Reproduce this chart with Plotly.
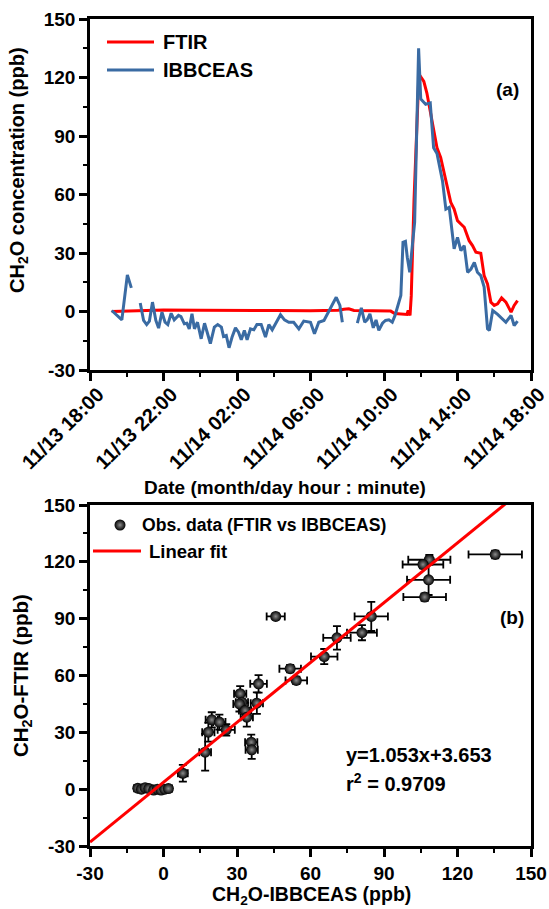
import plotly.graph_objects as go
import pandas as pd

W, H = 549, 909

# ---------------- Panel (a) data ----------------
ibb_time = [
    "11-13 19:11", "11-13 19:44", "11-13 20:02", "11-13 20:15", "11-13 20:30",
    "11-13 20:44", "11-13 20:55", "11-13 21:05", "11-13 21:14", "11-13 21:24", "11-13 21:35",
    "11-13 21:44", "11-13 21:55", "11-13 22:05", "11-13 22:14", "11-13 22:25", "11-13 22:35",
    "11-13 22:49", "11-13 22:57", "11-13 23:08", "11-13 23:16", "11-13 23:24", "11-13 23:33",
    "11-13 23:41", "11-13 23:51", "11-14 00:03", "11-14 00:14", "11-14 00:24", "11-14 00:33",
    "11-14 00:46", "11-14 00:57", "11-14 01:09", "11-14 01:16", "11-14 01:25", "11-14 01:34",
    "11-14 01:44", "11-14 01:55", "11-14 02:05", "11-14 02:14", "11-14 02:24", "11-14 02:33",
    "11-14 02:44", "11-14 02:55", "11-14 03:05", "11-14 03:19", "11-14 03:33", "11-14 03:44",
    "11-14 03:55", "11-14 04:05", "11-14 04:22", "11-14 04:35", "11-14 04:49", "11-14 05:05",
    "11-14 05:22", "11-14 05:38", "11-14 06:00", "11-14 06:13", "11-14 06:27", "11-14 06:44",
    "11-14 06:57", "11-14 07:08", "11-14 07:24", "11-14 07:36", "11-14 07:44", "11-14 08:10",
    "11-14 08:33", "11-14 08:46", "11-14 08:57", "11-14 09:05", "11-14 09:14", "11-14 09:25",
    "11-14 09:34", "11-14 09:43", "11-14 09:55", "11-14 10:05", "11-14 10:16", "11-14 10:27",
    "11-14 10:36", "11-14 10:46", "11-14 10:55", "11-14 11:02", "11-14 11:10", "11-14 11:16",
    "11-14 11:24", "11-14 11:32", "11-14 11:40", "11-14 11:53", "11-14 12:00", "11-14 12:16",
    "11-14 12:31", "11-14 12:42", "11-14 12:53", "11-14 13:11", "11-14 13:22", "11-14 13:33",
    "11-14 13:38", "11-14 13:49", "11-14 14:00", "11-14 14:11", "11-14 14:22", "11-14 14:33",
    "11-14 14:44", "11-14 14:55", "11-14 15:05", "11-14 15:16", "11-14 15:27", "11-14 15:38",
    "11-14 15:44", "11-14 15:55", "11-14 16:11", "11-14 16:24", "11-14 16:38", "11-14 16:55",
    "11-14 17:05", "11-14 17:16",
]
ibb_value = [
    0.5, -4.3, 18.8, 12.1, None,
    4.4, -4.6, -6.7, -4.9, 4.8, -4.6,
    -8.5, -0.3, -5.5, -6.7, -0.9, -4.3,
    -2.0, -2.6, -6.3, -6.0, -8.9, -1.2,
    -8.9, -5.5, -14.0, -6.0, -11.4, -16.5,
    -8.0, -6.7, -8.0, -12.8, -12.3, -18.6,
    -13.1, -8.4, -10.6, -14.5, -9.7, -14.5,
    -8.9, -9.4, -6.7, -6.7, -13.1, -6.7,
    -9.4, -6.3, -1.7, -4.3, -5.5, -5.5,
    -8.9, -4.9, -5.5, -11.4, -5.5, -4.6,
    -0.3, 2.6, 7.3, 3.1, -5.5, None,
    -6.0, 1.9, -5.5, -4.3, -1.2, -8.4,
    -4.3, -9.7, -6.0, -4.6, -4.3, -5.5,
    -2.0, 3.1, 8.2, 35.5, 36.0, 27.8,
    20.1, 32.9, 45.7, 135.0, 109.0, 106.3,
    107.0, 84.0, 81.0, 67.0, 52.5, 53.4,
    46.6, 32.1, 38.0, 31.2, 33.8, 20.1,
    21.8, 25.2, 20.1, 18.4, 12.5, -8.9,
    -9.7, 0.5, -1.5, -3.2, -5.5, -2.0,
    -7.2, -4.9,
]

ftir_time = [
    "11-13 19:11", "11-13 20:44", "11-13 22:00", "11-14 00:00", "11-14 02:00",
    "11-14 04:00", "11-14 06:00", "11-14 07:30", "11-14 07:49", "11-14 08:05",
    "11-14 08:22", "11-14 09:30", "11-14 10:22", "11-14 10:35", "11-14 11:05",
    "11-14 11:15", "11-14 11:19", "11-14 11:25", "11-14 11:29", "11-14 11:34",
    "11-14 11:38", "11-14 11:54", "11-14 12:10", "11-14 12:20", "11-14 12:38",
    "11-14 12:53", "11-14 13:05", "11-14 13:22", "11-14 13:38", "11-14 13:49",
    "11-14 14:00", "11-14 14:11", "11-14 14:22", "11-14 14:38", "11-14 14:49",
    "11-14 15:00", "11-14 15:16", "11-14 15:27", "11-14 15:38", "11-14 15:49",
    "11-14 16:00", "11-14 16:11", "11-14 16:24", "11-14 16:38", "11-14 16:55",
    "11-14 17:05", "11-14 17:16",
]
ftir_value = [
    0.0, 0.5, 0.8, 0.6, 0.4,
    0.5, 0.4, 0.6, 1.2, 1.4,
    0.5, 0.3, 0.2, -1.0, -1.2,
    -1.5, 0.5, -2.0, 8.0, 33.0,
    57.0, 121.7, 118.0, 112.0, 96.0,
    84.0, 79.0, 67.0, 56.0, 52.5,
    46.6, 44.9, 43.2, 36.3, 33.8,
    30.4, 29.9, 18.4, 14.2, 4.8,
    3.1, 3.9, 7.0, 4.8, -0.3,
    3.1, 5.6,
]

YEAR = "2019-"
x_range_a = ["2019-11-13 18:00", "2019-11-14 18:00"]

# value-axis ticks (hyphen minus as in the original)
val_ticks = [-30, 0, 30, 60, 90, 120, 150]
val_ticktext = [str(v) for v in val_ticks]

# ---------------- Panel (b) data ----------------
obs_ibb = [135.4, 108.5, 105.9, 108.2, 106.6, 45.8, 84.8, 81.0, 70.8, 65.6,
           51.7, 54.2, 38.8, 38.1, 31.3, 32.0, 31.0, 33.3, 34.0, 19.7,
           22.8, 25.6, 18.3, 17.0, 35.8, 36.0, 7.9,
           -10.5, -9.0, -7.5, -6.0, -4.0, -2.5, -1.0, 0.5, 2.0]
obs_ftir = [123.9, 121.1, 118.6, 110.5, 101.4, 91.2, 91.2, 82.6, 79.9, 70.0,
            63.6, 57.4, 55.6, 45.4, 50.4, 45.9, 45.0, 41.5, 38.0, 36.6,
            35.4, 31.3, 30.1, 19.5, 24.8, 20.8, 8.4,
            0.5, 0.0, 0.8, 0.3, -0.5, 0.0, -0.5, 0.0, 0.3]
obs_ibb_err = [10.9, 8.6, 8.3, 8.8, 8.7, 3.7, 6.8, 6.1, 5.6, 5.4,
               4.4, 4.4, 3.4, 2.5, 2.5, 2.5, 2.5, 2.5, 2.5, 2.5,
               2.5, 3.5, 2.5, 2.4, 2.5, 2.5, 2.0,
               1.5, 1.5, 1.5, 1.5, 1.5, 1.5, 1.5, 1.5, 1.5]
obs_ftir_err = [2.0, 2.5, 2.0, 8.0, 2.0, 1.5, 7.7, 4.0, 6.2, 4.0,
                2.0, 2.0, 4.6, 5.7, 4.0, 4.0, 4.0, 4.0, 5.0, 4.0,
                4.0, 3.0, 5.0, 9.7, 4.0, 4.8, 4.4,
                1.0, 1.0, 1.0, 1.0, 1.0, 1.0, 1.0, 1.0, 1.0]
fit_slope = 1.053
fit_intercept = 3.653
fit_r2 = 0.9709
fit_x = [-30, 150]

# ---------------- helpers ----------------
def pxx(x):
    return x / W

def pxy(y):
    return 1 - y / H

FONT = "Liberation Sans, Arial, sans-serif"
RED = "#ff0000"
BLUE = "#3a6ba3"
MARKER = dict(color="black", size=11, gradient=dict(type="radial", color="#8c8c8c"))

def bold(size):
    return dict(family=FONT, size=size, color="black", weight="bold")

fig = go.Figure()

t_ftir = pd.to_datetime([YEAR + s for s in ftir_time])
t_ibb = pd.to_datetime([YEAR + s for s in ibb_time])

fig.add_trace(go.Scatter(x=t_ftir, y=ftir_value, mode="lines", name="FTIR",
                         line=dict(color=RED, width=3), xaxis="x", yaxis="y"))
fig.add_trace(go.Scatter(x=t_ibb, y=ibb_value, mode="lines", name="IBBCEAS",
                         line=dict(color=BLUE, width=3), connectgaps=False,
                         xaxis="x", yaxis="y"))

fig.add_trace(go.Scatter(
    x=obs_ibb, y=obs_ftir, mode="markers", name="Obs. data (FTIR vs IBBCEAS)",
    marker=MARKER,
    error_x=dict(type="data", array=obs_ibb_err, color="black", thickness=1.8, width=4),
    error_y=dict(type="data", array=obs_ftir_err, color="black", thickness=1.8, width=4),
    xaxis="x2", yaxis="y2"))
fit_y = [fit_slope * v + fit_intercept for v in fit_x]
fig.add_trace(go.Scatter(x=fit_x, y=fit_y, mode="lines", name="Linear fit",
                         line=dict(color=RED, width=3), xaxis="x2", yaxis="y2"))

# legend key marker for panel (b), placed on a full-page pixel-space axis pair
fig.add_trace(go.Scatter(x=[120], y=[525], mode="markers", marker=MARKER,
                         xaxis="x3", yaxis="y3", hoverinfo="skip", cliponaxis=False))

axis_common = dict(
    showline=True, linewidth=2.5, linecolor="black", mirror=True,
    ticks="outside", ticklen=8, tickwidth=2.5, tickcolor="black",
    showgrid=False, zeroline=False, automargin=False,
    tickfont=bold(19),
)
minor_val = dict(dtick=15, ticklen=4, tickwidth=2, tickcolor="black", ticks="outside")

dom_x = [pxx(90), pxx(531)]
fig.update_layout(
    width=W, height=H,
    margin=dict(l=0, r=0, t=0, b=0),
    paper_bgcolor="white", plot_bgcolor="rgba(0,0,0,0)",
    font=bold(19),
    showlegend=False,
    xaxis=dict(domain=dom_x, anchor="y", type="date", range=x_range_a,
               dtick=4 * 3600 * 1000, tick0="2019-11-13 18:00",
               tickformat="%m/%d %H:%M", tickangle=-45,
               ticklabelshift=8, ticklabelstandoff=-6,
               minor=dict(dtick=2 * 3600 * 1000, ticklen=4, tickwidth=2, tickcolor="black",
                          ticks="outside"),
               **{**axis_common, "tickfont": bold(20)}),
    yaxis=dict(domain=[pxy(370), pxy(19)], anchor="x", range=[-30, 150],
               tickvals=val_ticks, ticktext=val_ticktext, minor=minor_val, **axis_common),
    xaxis2=dict(domain=dom_x, anchor="y2", range=[-30, 150],
                tickvals=val_ticks, ticktext=val_ticktext, minor=minor_val, **axis_common),
    yaxis2=dict(domain=[pxy(846), pxy(505)], anchor="x2", range=[-30, 150],
                tickvals=val_ticks, ticktext=val_ticktext, minor=minor_val, **axis_common),
    xaxis3=dict(domain=[0, 1], range=[0, W], visible=False, fixedrange=True, anchor="y3"),
    yaxis3=dict(domain=[0, 1], range=[H, 0], visible=False, fixedrange=True, anchor="x3"),
)

# legend key lines
legend_lines = [
    (107, 154, 42, RED),
    (107, 154, 70, BLUE),
    (93, 141, 551, RED),
]
for x0, x1, yy, col in legend_lines:
    fig.add_shape(type="line", xref="paper", yref="paper",
                  x0=pxx(x0), x1=pxx(x1), y0=pxy(yy), y1=pxy(yy),
                  line=dict(color=col, width=3))

annos = [
    dict(text="FTIR", x=pxx(161), y=pxy(42), xanchor="left", size=20),
    dict(text="IBBCEAS", x=pxx(161), y=pxy(70), xanchor="left", size=20),
    dict(text="Obs. data (FTIR vs IBBCEAS)", x=pxx(140), y=pxy(525), xanchor="left", size=17.6),
    dict(text="Linear fit", x=pxx(147), y=pxy(551), xanchor="left", size=18.5),
    dict(text="CH<sub>2</sub>O concentration (ppb)", x=pxx(19), y=pxy(170), textangle=-90, size=20),
    dict(text="Date (month/day hour : minute)", x=pxx(285), y=pxy(487), size=19),
    dict(text="CH<sub>2</sub>O-FTIR (ppb)", x=pxx(22), y=pxy(676), textangle=-90, size=20.5),
    dict(text="CH<sub>2</sub>O-IBBCEAS (ppb)", x=pxx(311), y=pxy(895), size=19.5),
    dict(text="(a)", x=pxx(507), y=pxy(89), size=19),
    dict(text="(b)", x=pxx(512), y=pxy(617), size=19),
    dict(text="y=%.3fx+%.3f" % (fit_slope, fit_intercept), x=pxx(344), y=pxy(755),
         xanchor="left", size=20),
    dict(text="r<sup>2</sup> = %.4f" % fit_r2, x=pxx(344), y=pxy(782), xanchor="left", size=20),
]
for a in annos:
    fig.add_annotation(xref="paper", yref="paper", showarrow=False,
                       font=bold(a["size"]),
                       xanchor=a.get("xanchor", "center"), yanchor="middle",
                       text=a["text"], x=a["x"], y=a["y"],
                       textangle=a.get("textangle", 0))

fig.write_html("out.html")
